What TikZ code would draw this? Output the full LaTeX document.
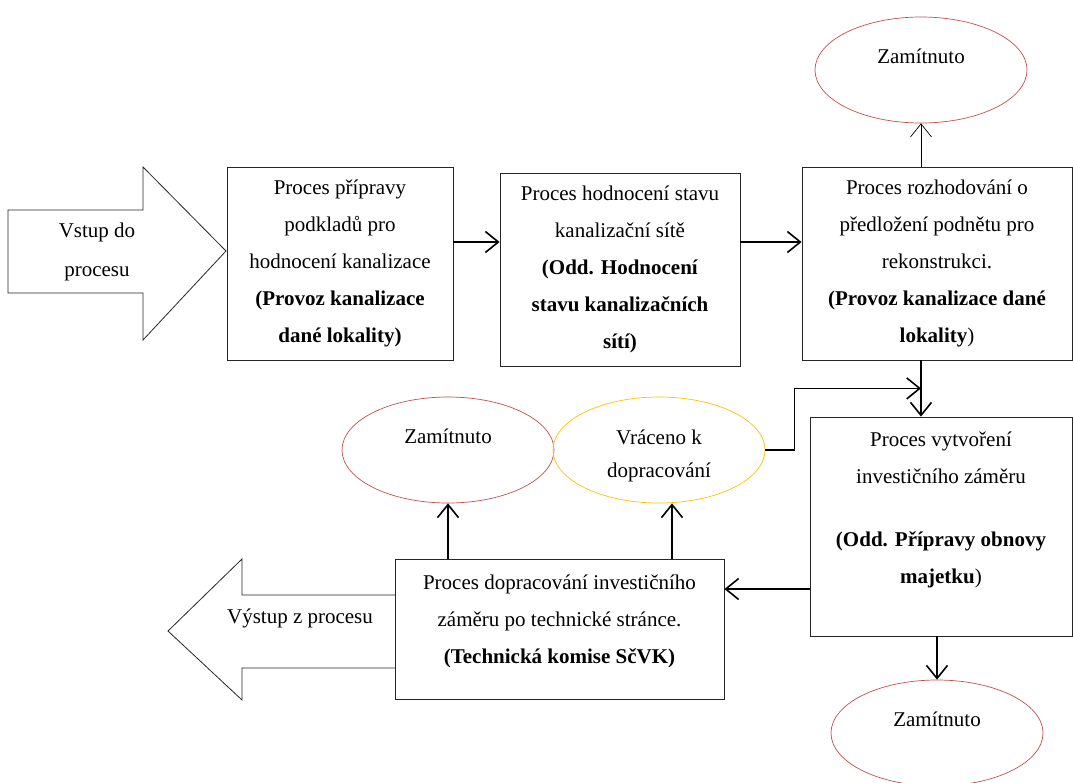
\documentclass[tikz,border=0pt]{standalone}
\usepackage{fontspec}
\setmainfont{Liberation Serif}
\usepackage{tikz}
\usetikzlibrary{arrows.meta,positioning,calc,shapes.geometric}
\usepackage{xcolor}
\definecolor{rejred}{RGB}{192,80,77}
\definecolor{retyellow}{RGB}{255,192,0}

\begin{document}
\begin{tikzpicture}[
  x=1pt, y=-1pt,
  font=\fontsize{21}{37}\selectfont,
  procbox/.style={draw=black!85, line width=0.8pt, align=center, inner sep=0pt},
  rejell/.style={draw=rejred, ellipse, line width=0.7pt, minimum width=212pt, minimum height=106pt, inner sep=0pt, align=center},
  retell/.style={rejell, draw=retyellow},
  bigarrow/.style={draw=black!85, line width=0.8pt, fill=white},
  conn/.style={-{Straight Barb[length=13pt,width=21pt]}, line width=1.6pt},
  thinconn/.style={conn, line width=0.7pt}
]
\useasboundingbox (0,0) rectangle (1073,782);
% in / out arrows
\draw[bigarrow] (8,210) -- (143,210) -- (143,167) -- (226,251) -- (143,340) -- (143,293) -- (8,293) -- cycle;
\node (vstup) at (97,250) {\begin{tabular}{c}Vstup do\\[2pt]procesu\end{tabular}};
\draw[bigarrow] (395,595) -- (242,595) -- (242,559) -- (168,631) -- (242,700) -- (242,668) -- (395,668);
\node (vystup) at (300,618) {Výstup z procesu};
% process boxes
\node[procbox, minimum width=226pt, minimum height=193pt] (b1) at (340,263.5)
  {Proces přípravy\\podkladů pro\\hodnocení kanalizace\\\textbf{(Provoz kanalizace}\\\textbf{dané lokality)}};
\node[procbox, minimum width=240pt, minimum height=193pt] (b2) at (620,269.5)
  {Proces hodnocení stavu\\kanalizační sítě\\\textbf{(Odd. Hodnocení}\\\textbf{stavu kanalizačních}\\\textbf{sítí)}};
\node[procbox, minimum width=270pt, minimum height=193pt] (b3) at (937,263.5)
  {Proces rozhodování o\\předložení podnětu pro\\rekonstrukci.\\\textbf{(Provoz kanalizace dané}\\\textbf{lokality})};
\node[procbox, minimum width=262pt, minimum height=219pt] (b4) at (941,526.5)
  {Proces vytvoření\\investičního záměru\\[26pt]\textbf{(Odd. Přípravy obnovy}\\\textbf{majetku})\\\mbox{}};
\node[procbox, minimum width=329pt, minimum height=140pt] (b5) at (559.5,629)
  {Proces dopracování investičního\\záměru po technické stránce.\\\textbf{(Technická komise SčVK)}\\[-17pt]\mbox{}};
% outcomes
\node[rejell] (rej1) at (921,70) {Zamítnuto\\[-10pt]\mbox{}};
\node[rejell] (rej2) at (448,450) {Zamítnuto\\[-10pt]\mbox{}};
\node[retell] (ret) at (659,450)
  {\raisebox{-9pt}[0pt][0pt]{\begin{tabular}{c}Vráceno k\\[-4pt]dopracování\end{tabular}}};
\node[rejell] (rej3) at (937,733) {Zamítnuto\\[-10pt]\mbox{}};
% connectors
\coordinate (a12) at ([yshift=21.5pt]b1.east);
\coordinate (a23) at ([yshift=27.5pt]b2.east);
\coordinate (a45) at ([yshift=-62.5pt]b4.west);
\coordinate (merge) at ($(b3.south -| rej1)+(0,28)$);
\coordinate (r5) at ([xshift=13pt]ret.south);
\draw[conn] (a12) -- (a12 -| b2.west);
\draw[conn] (a23) -- (a23 -| b3.west);
\draw[thinconn] (b3.north -| rej1) -- (rej1.south);
\draw[conn] (b3.south -| rej1) -- (b4.north -| rej1);
\draw[conn] (ret.east) -- ++(29,0) |- (merge);
\draw[conn] (a45) -- (a45 -| b5.east);
\draw[conn] (b5.north -| rej2) -- (rej2.south);
\draw[conn] (r5 |- b5.north) -- (r5);
\draw[conn] (b4.south -| rej3) -- (rej3.north);
\end{tikzpicture}
\end{document}
